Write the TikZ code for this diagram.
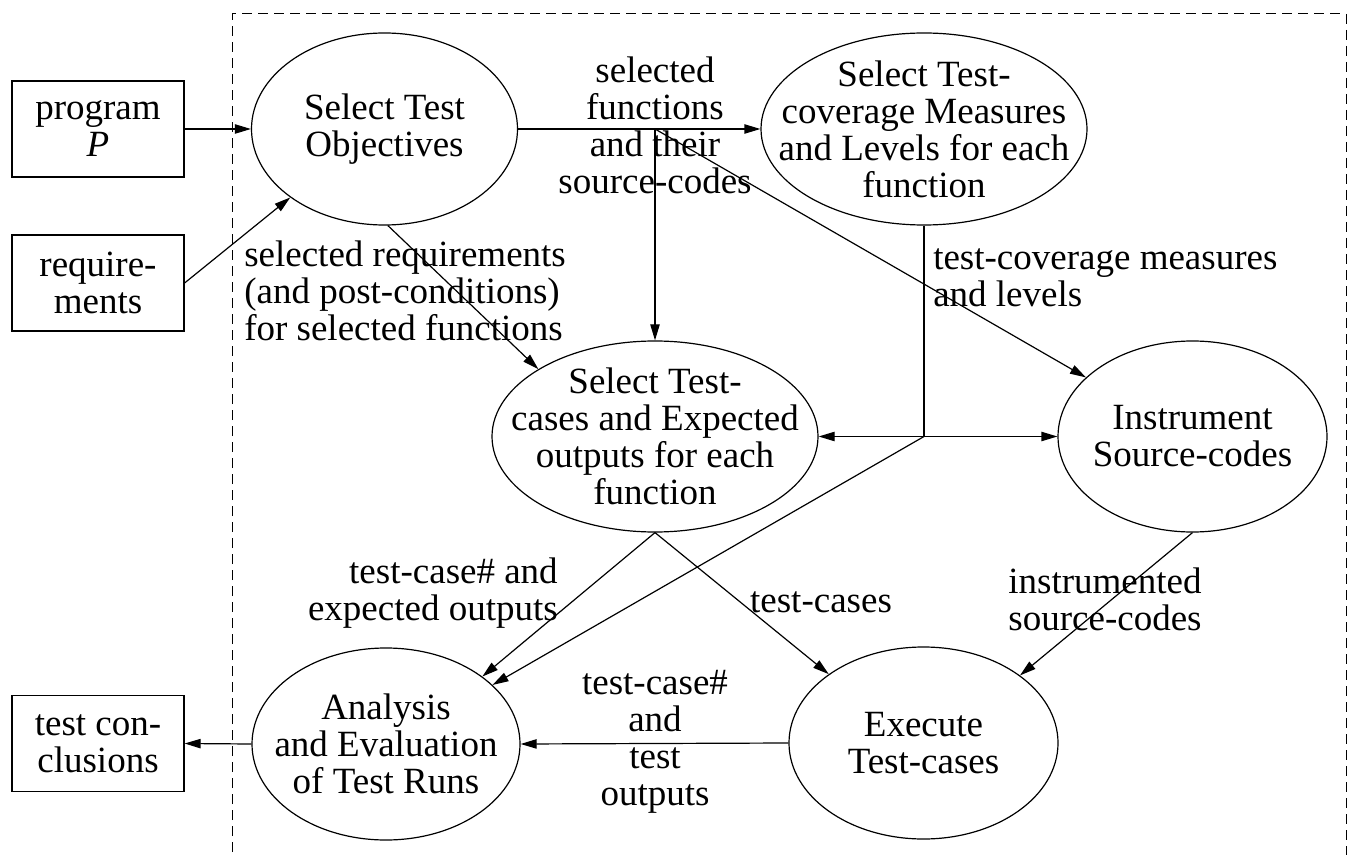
\documentclass[tikz,border=0pt]{standalone}
\usepackage{fontspec}
\setmainfont{Liberation Serif}
\usetikzlibrary{shapes.geometric,arrows.meta}
\newlength\pxu \setlength\pxu{0.75pt}
\begin{document}
\begin{tikzpicture}[x=0.75pt,y=-0.75pt,
  every node/.style={font=\fontsize{27.75pt}{27.75pt}\selectfont},
  ell/.style={draw,ellipse,inner sep=0pt,line width=0.9pt},
  box/.style={draw,rectangle,minimum width=172\pxu,minimum height=96\pxu,inner sep=0pt,align=center,line width=0.9pt},
  txt/.style={align=center,inner sep=0pt},
  arr/.style={-{Triangle[length=12pt,width=7pt]}},
  conn/.style={line width=0.9pt},
  frame/.style={dash pattern=on 7.5pt off 4.5pt,line width=0.75pt}]
\useasboundingbox (0,0) rectangle (1352,855);
\draw[frame] (232,900) -- (232,14) -- (1346,14) -- (1346,900);

% input / output boxes
\node[box] (prog) at (98,129) {program\\\textit{P}};
\node[box] (req) at (98,283) {require-\\ments};
\node[box] (concl) at (98,743.5) {test con-\\clusions};

% process ellipses
\node[ell,minimum width=266\pxu,minimum height=192\pxu] (sto) at (384.5,129) {};
\node[txt] (stot) at (sto) {Select Test\\Objectives};
\node[ell,minimum width=326\pxu,minimum height=192\pxu] (stcm) at (924,129) {};
\node[txt] (stcmt) at (stcm) {Select Test-\\coverage Measures\\and Levels for each\\function};
\node[ell,minimum width=326\pxu,minimum height=191\pxu] (stc) at (655,436.5) {};
\node[txt] (stct) at (stc) {Select Test-\\cases and Expected\\outputs for each\\function};
\node[ell,minimum width=269\pxu,minimum height=191\pxu] (ins) at (1192.5,436.5) {};
\node[txt] (inst) at (ins) {Instrument\\Source-codes};
\node[ell,minimum width=268\pxu,minimum height=192\pxu] (ana) at (386,744) {};
\node[txt] (anat) at (ana) {Analysis\\and Evaluation\\of Test Runs};
\node[ell,minimum width=269\pxu,minimum height=192\pxu] (exe) at (923.5,743) {};
\node[txt] (exet) at (exe) {Execute\\Test-cases};

% branch points
\coordinate (b1) at (stc.north |- sto.east);
\coordinate (j) at (stcm.south |- stc.east);

% connectors
\draw[conn,arr] (prog.east) -- (sto.west);
\draw[conn,arr] (req.east) -- (sto.216);
\draw[conn,arr] (sto.east) -- (stcm.west);
\draw[conn,arr] (b1) -- (stc.north);
\draw[conn,arr] (b1) -- (ins.151);
\draw[conn,arr] (sto.-88) -- (stc.150);
\draw[conn] (stcm.south) -- (j);
\draw[conn,arr] (j) -- (stc.east);
\draw[conn,arr] (j) -- (ins.west);
\draw[conn,arr] (j) -- (ana.29);
\draw[conn,arr] (stc.south) -- (ana.35);
\draw[conn,arr] (stc.south) -- (exe.144);
\draw[conn,arr] (ins.south) -- (exe.35);
\draw[conn,arr] (exe.west) -- (ana.east);
\draw[conn,arr] (ana.west) -- (concl.east);

% labels
\node[txt] (lA) at (655,125) {selected\\functions\\and their\\source-codes};
\node[txt,align=left,anchor=west] (lB) at (244,290.5) {selected requirements\\(and post-conditions)\\for selected functions};
\node[txt,align=left,anchor=west] (lC) at (933,278) {test-coverage measures\\and levels};
\node[txt,align=right,anchor=east] (lD) at (558,593) {test-case\# and\\expected outputs};
\node[txt,anchor=base] (lE) at (821,612) {test-cases};
\node[txt] (lF) at (655,742) {test-case\#\\and\\test\\outputs};
\node[txt] (lG) at (1105,599) {instrumented\\source-codes};
\end{tikzpicture}
\end{document}
